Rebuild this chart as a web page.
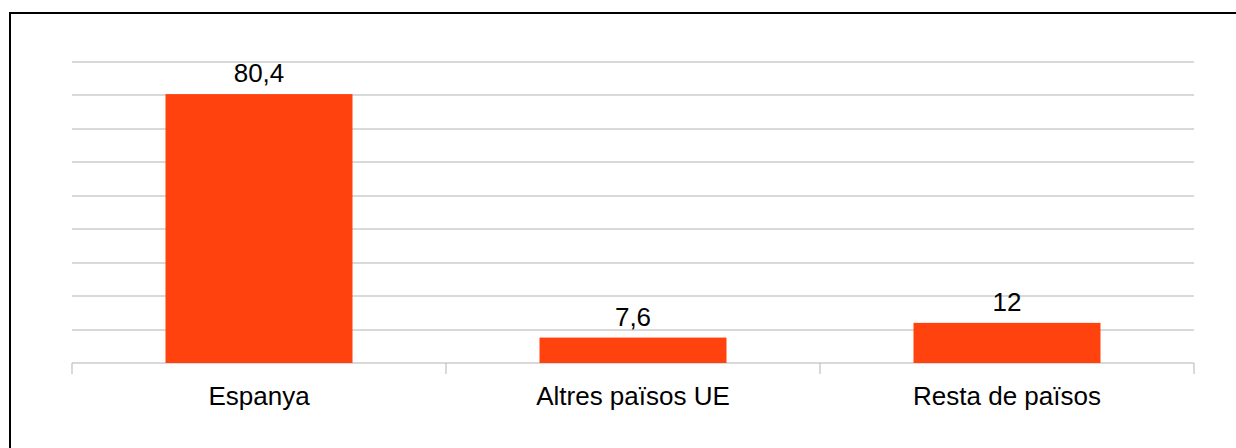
<!DOCTYPE html>
<html>
<head>
<meta charset="utf-8">
<script src="https://cdn.jsdelivr.net/npm/d3@7"></script>
<style>
  body { margin: 0; background: #fff; }
  text { font-family: "Liberation Sans", Arial, sans-serif; fill: #000; }
</style>
</head>
<body>
<div id="chart"></div>
<script>
var categories = ['Espanya', 'Altres països UE', 'Resta de països']
var values = [80.4, 7.6, 12]
var valueLabels = ['80,4', '7,6', '12']
var yTicks = [0, 10, 20, 30, 40, 50, 60, 70, 80, 90]

var width = 1236
var height = 448
var margin = { top: 62, left: 72, right: 42, bottom: 85 }

var svg = d3
  .select('#chart')
  .append('svg')
  .attr('width', width)
  .attr('height', height)

// outer frame (only top and left edges visible)
svg
  .append('rect')
  .attr('x', 10)
  .attr('y', 13)
  .attr('width', width)
  .attr('height', height)
  .attr('fill', 'none')
  .attr('stroke', '#000')
  .attr('stroke-width', 2)

var x = d3
  .scaleBand()
  .domain(categories)
  .range([margin.left, width - margin.right])
  .paddingInner(0.5)
  .paddingOuter(0.25)

var y = d3
  .scaleLinear()
  .domain([0, 90])
  .range([height - margin.bottom, margin.top])

// gridlines
svg
  .selectAll('.grid')
  .data(yTicks)
  .enter()
  .append('line')
  .attr('class', 'grid')
  .attr('x1', margin.left)
  .attr('x2', width - margin.right)
  .attr('y1', d => Math.round(y(d)))
  .attr('y2', d => Math.round(y(d)))
  .attr('stroke', '#b3b3b3')
  .attr('stroke-width', 1)

// category separator ticks
var xStep = (width - margin.right - margin.left) / categories.length
var tickPos = d3.range(categories.length + 1).map(i => margin.left + i * xStep)
svg
  .selectAll('.xtick')
  .data(tickPos)
  .enter()
  .append('line')
  .attr('class', 'xtick')
  .attr('x1', d => Math.round(d))
  .attr('x2', d => Math.round(d))
  .attr('y1', y(0))
  .attr('y2', y(0) + 11)
  .attr('stroke', '#b3b3b3')

// bars
svg
  .selectAll('.bar')
  .data(values)
  .enter()
  .append('rect')
  .attr('class', 'bar')
  .attr('x', (d, i) => x(categories[i]))
  .attr('width', x.bandwidth())
  .attr('y', d => y(d))
  .attr('height', d => y(0) - y(d))
  .attr('fill', '#ff420e')

// value labels
svg
  .selectAll('.val')
  .data(values)
  .enter()
  .append('text')
  .attr('class', 'val')
  .attr('x', (d, i) => x(categories[i]) + x.bandwidth() / 2)
  .attr('y', d => y(d) - 12)
  .attr('text-anchor', 'middle')
  .style('font-size', '26px')
  .text((d, i) => valueLabels[i])

// category labels
svg
  .selectAll('.cat')
  .data(categories)
  .enter()
  .append('text')
  .attr('class', 'cat')
  .attr('x', d => x(d) + x.bandwidth() / 2)
  .attr('y', y(0) + 42)
  .attr('text-anchor', 'middle')
  .style('font-size', '26px')
  .text(d => d)
</script>
</body>
</html>
